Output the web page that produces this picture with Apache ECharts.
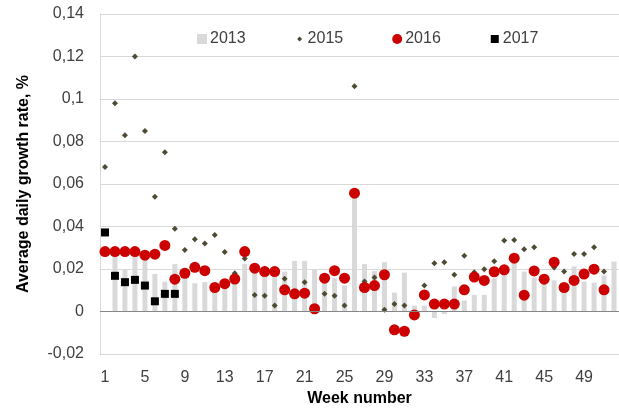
<!DOCTYPE html>
<html>
<head>
<meta charset="utf-8">
<script src="https://cdn.jsdelivr.net/npm/echarts@6/dist/echarts.min.js"></script>
<style>html,body{margin:0;padding:0;background:#fff}#c{width:619px;height:412px}</style>
</head>
<body>
<div id="c"></div>
<script>
// Week numbers 1..52
const weeks = ["1","2","3","4","5","6","7","8","9","10","11","12","13","14","15","16","17","18","19","20","21","22","23","24","25","26","27","28","29","30","31","32","33","34","35","36","37","38","39","40","41","42","43","44","45","46","47","48","49","50","51","52"];

const y2013 = [null,0.027,0.020,0.027,0.025,0.0177,0.0141,0.0223,0.017,0.0133,0.0138,0.012,0.013,0.018,0.0223,0.019,0.018,0.018,0.0188,0.0238,0.0238,0.0199,0.016,0.0157,0.0122,0.0555,0.0223,0.019,0.0232,0.0089,0.0183,0.0028,0.0028,-0.0031,-0.0012,0.0118,0.0052,0.0078,0.0078,0.0157,0.0216,0.0227,0.0188,0.016,0.0144,0.0147,0.011,0.0212,0.0141,0.0136,0.017,0.0235];

const y2015 = [0.068,0.098,0.083,0.120,0.085,0.054,0.075,0.039,0.029,0.034,0.032,0.036,0.028,0.018,0.025,0.0078,0.0074,0.0028,0.0154,0.0078,0.0138,0.001,0.0083,0.0074,0.0028,0.106,0.0141,0.016,0.0008,0.0035,0.0028,-0.0015,0.0122,0.0227,0.0232,0.0173,0.0262,0.0185,0.0199,0.0236,0.0334,0.0337,0.0293,0.0302,0.015,0.0207,0.0188,0.0271,0.0271,0.0302,0.0188,null];

const y2016 = [0.0282,0.0282,0.0282,0.0282,0.0265,0.027,0.0311,0.0152,0.018,0.0208,0.0192,0.0113,0.0131,0.0153,0.0282,0.0204,0.0188,0.0188,0.0102,0.0083,0.0086,0.0013,0.0157,0.0192,0.0157,0.0557,0.0113,0.0122,0.0173,-0.0086,-0.0093,-0.0016,0.0078,0.0035,0.0035,0.0035,0.0102,0.0162,0.0146,0.0187,0.0196,0.0251,0.0077,0.0191,0.0152,0.0232,0.0113,0.0146,0.0176,0.0199,0.0102,null];

const y2017 = [0.0372,0.0168,0.0138,0.0149,0.0122,0.0048,0.0083,0.0083,null,null,null,null,null,null,null,null,null,null,null,null,null,null,null,null,null,null,null,null,null,null,null,null,null,null,null,null,null,null,null,null,null,null,null,null,null,null,null,null,null,null,null,null];

const seriesNames = ["2013","2015","2016","2017"];
const yTickLabels = ["-0,02","0","0,02","0,04","0,06","0,08","0,1","0,12","0,14"];
const yMin = -0.02, yMax = 0.14, yStep = 0.02;

const FONT = "Liberation Sans, Arial, sans-serif";
const TXT = "#404040";

const chart = echarts.init(document.getElementById('c'), null, {renderer: 'canvas'});
chart.setOption({
  animation: false,
  backgroundColor: '#ffffff',
  textStyle: {fontFamily: FONT},
  grid: {left: 100, right: 0, top: 14, bottom: 58, containLabel: false},
  legend: {
    top: 26, left: 192,
    itemWidth: 10, itemHeight: 10, itemGap: 49,
    textStyle: {fontFamily: FONT, fontSize: 16, color: TXT, padding: [0,0,0,-2]},
    data: [
      {name: seriesNames[0], icon: 'rect'},
      {name: seriesNames[1], icon: 'path://M0,0M10,10M5,2.5L7.5,5L5,7.5L2.5,5Z'},
      {name: seriesNames[2], icon: 'circle'},
      {name: seriesNames[3], icon: 'path://M0,0M10,10M1,1L9,1L9,9L1,9Z'}
    ]
  },
  xAxis: {
    type: 'category',
    data: weeks,
    boundaryGap: true,
    name: 'Week number',
    nameLocation: 'middle',
    nameGap: 31,
    nameTextStyle: {fontFamily: FONT, fontSize: 16, fontWeight: 'bold', color: '#000'},
    axisLine: {onZero: false, lineStyle: {color: '#d9d9d9', width: 1}},
    axisTick: {show: false},
    axisLabel: {interval: 3, margin: 16, fontFamily: FONT, fontSize: 16, color: TXT},
    splitLine: {show: false}
  },
  yAxis: {
    type: 'value',
    min: yMin, max: yMax, interval: yStep,
    name: 'Average daily growth rate, %',
    nameLocation: 'middle',
    nameGap: 68,
    nameTextStyle: {fontFamily: FONT, fontSize: 16, fontWeight: 'bold', color: '#000'},
    axisLine: {show: true, lineStyle: {color: '#d9d9d9', width: 1}},
    axisTick: {show: false},
    axisLabel: {
      margin: 16, fontFamily: FONT, fontSize: 16, color: TXT,
      formatter: function (v) { return yTickLabels[Math.round((v - yMin) / yStep)]; }
    },
    splitLine: {lineStyle: {color: '#d9d9d9', width: 1}}
  },
  series: [
    {
      name: seriesNames[0], type: 'bar', data: y2013, barWidth: 5,
      itemStyle: {color: '#d9d9d9'},
      markLine: {
        silent: true, symbol: 'none', label: {show: false},
        lineStyle: {color: '#868686', width: 1, type: 'solid'},
        data: [{yAxis: 0}]
      },
      z: 1
    },
    {
      name: seriesNames[1], type: 'scatter', data: y2015, symbol: 'diamond', symbolSize: 6,
      itemStyle: {color: '#4f4b33', opacity: 1}, z: 3
    },
    {
      name: seriesNames[2], type: 'scatter', data: y2016, symbol: 'circle', symbolSize: 11,
      itemStyle: {color: '#cc0000', opacity: 1}, z: 4
    },
    {
      name: seriesNames[3], type: 'scatter', data: y2017, symbol: 'rect', symbolSize: 8,
      itemStyle: {color: '#000000', opacity: 1}, z: 5
    }
  ]
});
</script>
</body>
</html>
